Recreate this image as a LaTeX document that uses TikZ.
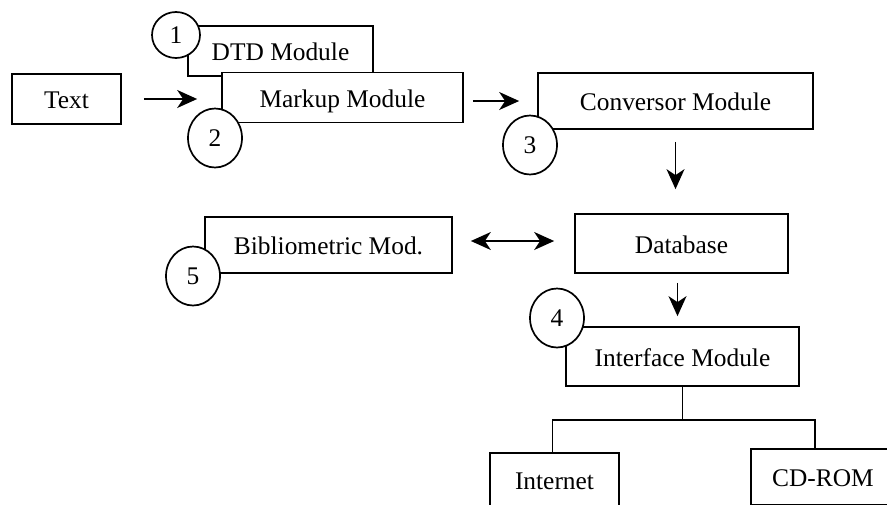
\documentclass[tikz,border=0pt]{standalone}
\usepackage{fontspec}
\setmainfont{Liberation Serif}
\usetikzlibrary{positioning, arrows.meta, shapes.geometric}

\begin{document}
\begin{tikzpicture}[
  x=0.5pt, y=-0.5pt,
  font=\fontsize{12.7}{15}\selectfont,
  box/.style={draw, fill=white, line width=0.85pt, inner sep=0pt, minimum height=#1,
              text height=0.95em, text depth=0pt},
  box/.default=25pt,
  num/.style={draw, fill=white, ellipse, line width=0.85pt, inner sep=0pt,
              minimum width=27pt, minimum height=29.5pt},
  ar/.style={-{Stealth[length=10pt, width=9pt, inset=3pt]}, line width=0.85pt},
  dar/.style={{Stealth[length=10pt, width=9pt, inset=3pt]}-{Stealth[length=10pt, width=9pt, inset=3pt]},
              line width=0.85pt},
  tree/.style={line width=0.85pt},
]
  \clip (0,0) rectangle (887,504);
  \node[box, minimum width=54.5pt] (text) at (66.5,99) {Text};
  \node[box, minimum width=92.5pt] (dtd) at (280.5,51) {DTD Module};
  \node[box, minimum width=120.5pt] (markup) at (342.5,97.5) {Markup Module};
  \node[box=28pt, minimum width=137.5pt] (conv) at (675.5,101) {Conversor Module};
  \node[box=28pt, minimum width=123.5pt] (biblio) at (328.5,245) {Bibliometric Mod.};
  \node[box=29.5pt, minimum width=106.5pt] (db) at (681.5,243.5) {Database};
  \node[box=29.5pt, minimum width=116.5pt] (iface) at (682.5,356.5) {Interface Module};
  \node[box=27pt, minimum width=64.5pt] (inet) at (554.5,480) {Internet};
  \node[box=28pt, minimum width=72pt] (cdrom) at (823,477) {CD-ROM};

  % module numbers
  \node[num, minimum width=24pt, minimum height=23pt] (n1) at (176,35) {1};
  \node[num] (n2) at (215,138) {2};
  \node[num] (n3) at (530,145) {3};
  \node[num] (n4) at (557,318) {4};
  \node[num] (n5) at (193,276) {5};

  \draw[ar, shorten <=11pt, shorten >=12pt] (text.east) -- (text.east -| markup.west);
  \draw[ar, shorten <=4.5pt, shorten >=9pt] (markup.east |- conv.west) -- (conv.west);
  \draw[ar, shorten <=6pt, shorten >=12pt] (conv.south) -- (conv.south |- db.north);
  \draw[dar, shorten <=9pt, shorten >=10pt] ([yshift=2pt]biblio.east) -- ([yshift=2pt]biblio.east -| db.west);
  \draw[ar, shorten <=4.5pt, shorten >=5pt] ([xshift=-2pt]db.south) -- ([xshift=-2pt]db.south |- iface.north);

  \coordinate (fork) at ([yshift=-16.5pt]iface.south);
  \draw[tree] (iface.south) -- (fork);
  \draw[tree] ([xshift=-1pt]inet.north) |- (fork) -| ([xshift=-4pt]cdrom.north);
\end{tikzpicture}
\end{document}
